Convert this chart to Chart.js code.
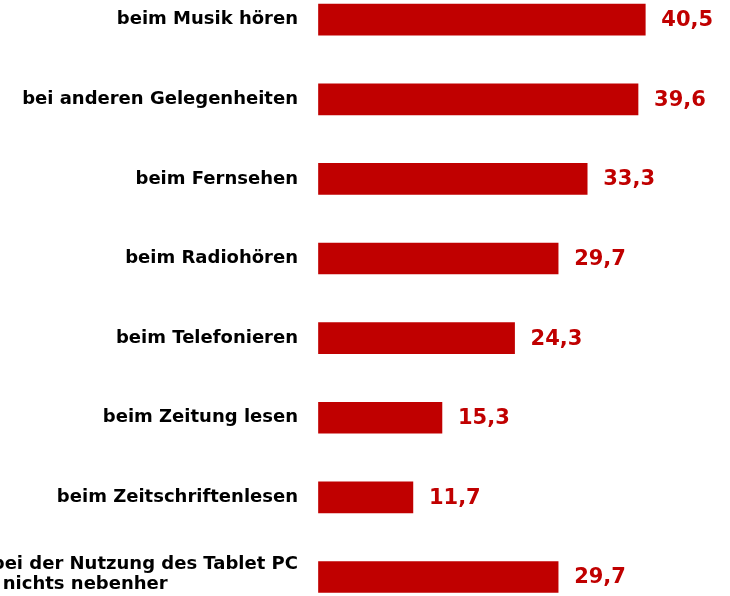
<!DOCTYPE html>
<html><head><meta charset="utf-8">
<script src="https://cdn.jsdelivr.net/npm/chart.js@4/dist/chart.umd.min.js"></script>
<style>html,body{margin:0;padding:0;background:#fff;overflow:hidden}#wrap{width:730px;height:596px;position:relative}</style>
</head><body><div id="wrap"><canvas id="c" width="730" height="596"></canvas></div>
<script>
const categories = ["beim Musik hören", "bei anderen Gelegenheiten", "beim Fernsehen", "beim Radiohören", "beim Telefonieren", "beim Zeitung lesen", "beim Zeitschriftenlesen", ["bei der Nutzung des Tablet PC", "nichts nebenher"]];
const values = [40.5, 39.6, 33.3, 29.7, 24.3, 15.3, 11.7, 29.7];
const axisMin = 0;
const axisMax = 51;

const fmt = v => v.toFixed(1).replace('.', ',');

const labelPlugin = {
  id: 'labels',
  afterDatasetsDraw(chart) {
    const ctx = chart.ctx;
    const y = chart.scales.y;
    const meta = chart.getDatasetMeta(0);
    ctx.save();
    ctx.textBaseline = 'middle';
    ctx.font = 'bold 18px "DejaVu Sans"';
    ctx.fillStyle = '#000000';
    const right = chart.chartArea.left - 20.5;
    categories.forEach((c, i) => {
      const cy = y.getPixelForValue(i);
      const lines = Array.isArray(c) ? c : [c];
      const lh = 20.5;
      const y0 = lines.length > 1 ? cy - (lines.length - 1) * lh / 2 - 2.5 : cy;
      const w1 = ctx.measureText(lines[0]).width;
      lines.forEach((ln, j) => {
        if (j === 0) { ctx.textAlign = 'right'; ctx.fillText(ln, right, y0); }
        else { ctx.textAlign = 'left'; ctx.fillText(ln, right - w1 + 11, y0 + j * lh); }
      });
    });
    ctx.font = 'bold 21px "DejaVu Sans"';
    ctx.fillStyle = '#C00000';
    ctx.textAlign = 'left';
    meta.data.forEach((bar, i) => {
      ctx.fillText(fmt(values[i]), bar.x + 16, bar.y + 1);
    });
    ctx.restore();
  }
};

new Chart(document.getElementById('c'), {
  type: 'bar',
  data: {
    labels: categories,
    datasets: [{
      data: values,
      backgroundColor: '#C00000',
      borderWidth: 0,
      barThickness: 31,
      clip: false
    }]
  },
  options: {
    indexAxis: 'y',
    responsive: false,
    animation: false,
    layout: { padding: { left: 318.5, top: 19.7, bottom: 19, right: 0 } },
    scales: {
      x: { display: false, min: axisMin, max: axisMax },
      y: { display: false, offset: false }
    },
    plugins: { legend: { display: false }, tooltip: { enabled: false } }
  },
  plugins: [labelPlugin]
});
</script>
</body></html>
